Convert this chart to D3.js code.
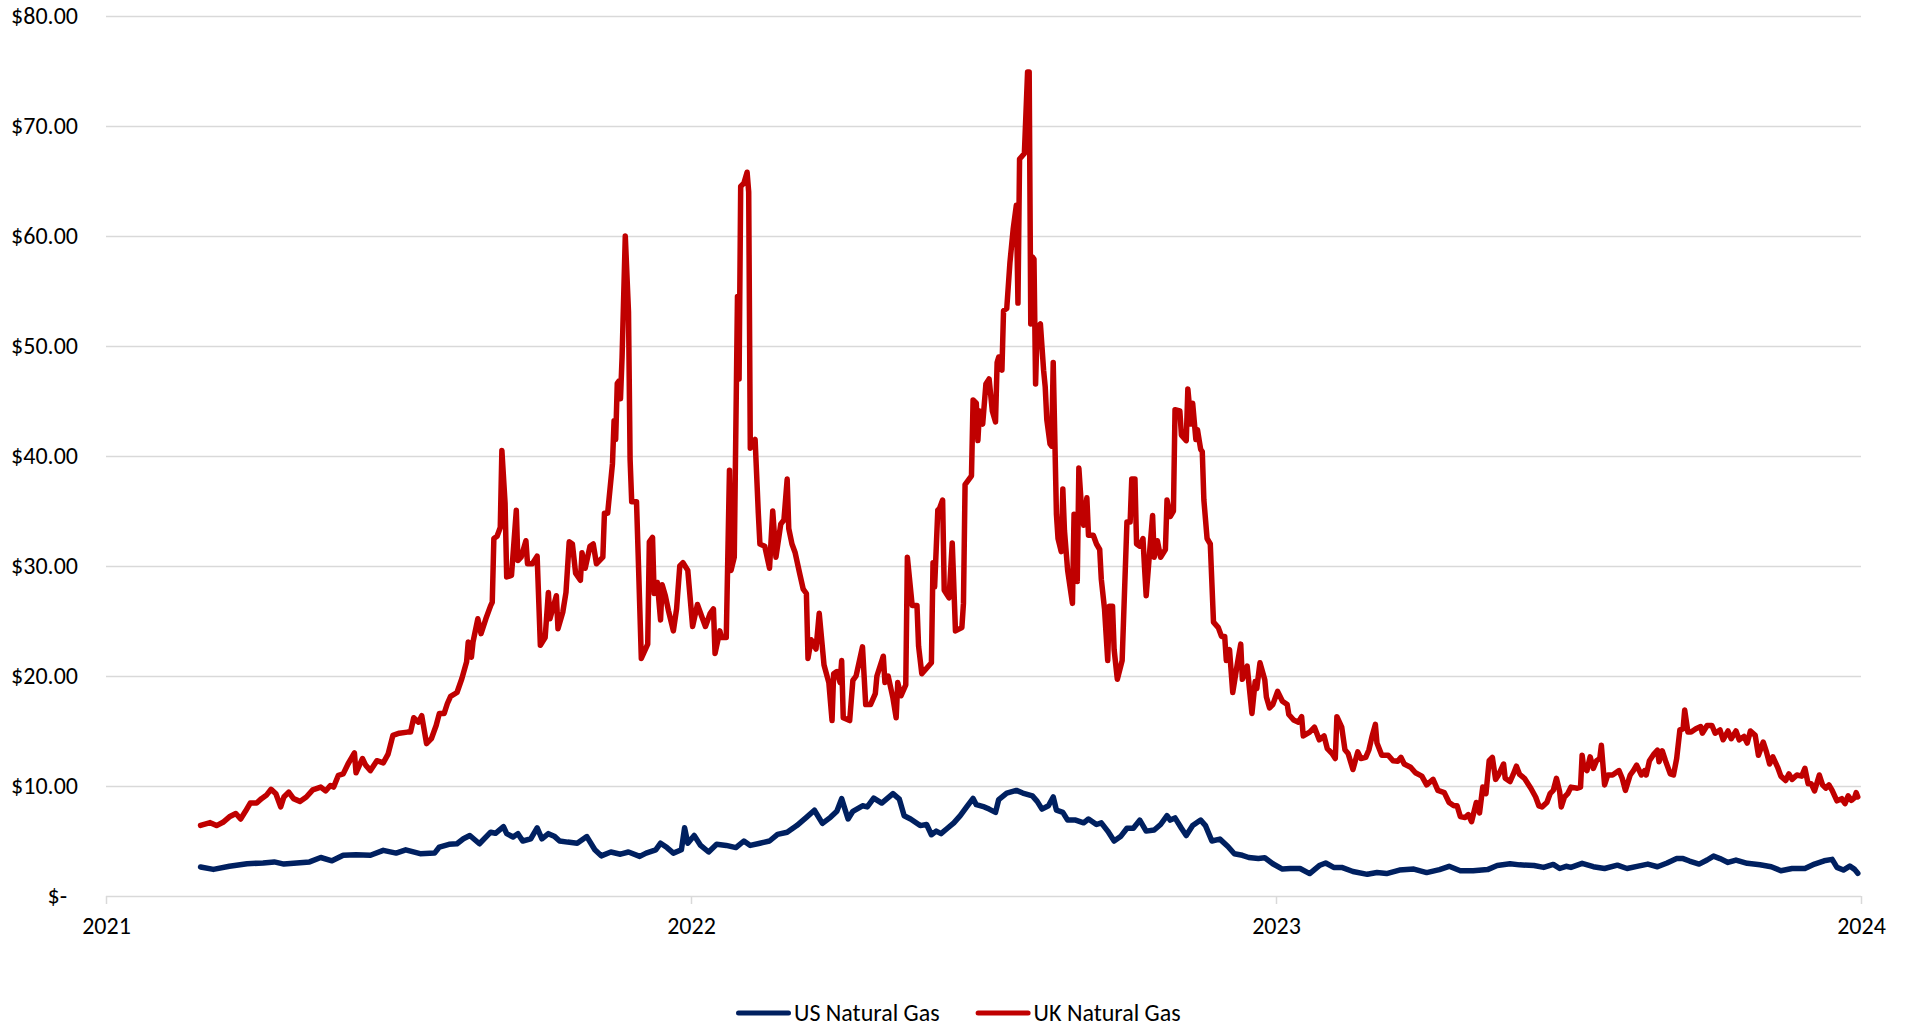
<!DOCTYPE html>
<html>
<head>
<meta charset="utf-8">
<script src="https://cdn.jsdelivr.net/npm/d3@7"></script>
<style>
  body { margin: 0; background: #ffffff; }
  svg text { font-family: Carlito, Calibri, "Liberation Sans", Arial, sans-serif; fill: #000000; }
</style>
</head>
<body>
<svg id="chart" width="1907" height="1027"></svg>
<script>
// Axis ticks
const yearTicks = ["2021", "2022", "2023", "2024"];
const priceTicks = [0, 10, 20, 30, 40, 50, 60, 70, 80];

// Series names and colours (legend order)
const seriesNames = ["US Natural Gas", "UK Natural Gas"];
const seriesColors = ["#002060", "#C00000"];

// US natural gas price, $ per MMBtu
const usPrices = [
  ["2021-03-01",2.64],["2021-03-09",2.42],["2021-03-19",2.70],["2021-03-30",2.94],["2021-04-09",3.00],
  ["2021-04-16",3.10],["2021-04-22",2.90],["2021-05-02",3.03],["2021-05-08",3.10],["2021-05-15",3.50],
  ["2021-05-22",3.20],["2021-05-29",3.70],["2021-06-06",3.75],["2021-06-15",3.70],["2021-06-23",4.15],
  ["2021-07-01",3.90],["2021-07-07",4.20],["2021-07-16",3.85],["2021-07-25",3.90],["2021-07-28",4.45],
  ["2021-08-03",4.70],["2021-08-08",4.75],["2021-08-12",5.20],["2021-08-16",5.50],["2021-08-22",4.75],
  ["2021-08-29",5.80],["2021-09-01",5.70],["2021-09-06",6.30],["2021-09-08",5.67],["2021-09-12",5.36],
  ["2021-09-15",5.67],["2021-09-18",5.00],["2021-09-23",5.20],["2021-09-27",6.20],["2021-09-30",5.20],
  ["2021-10-04",5.67],["2021-10-08",5.40],["2021-10-11",5.00],["2021-10-16",4.90],["2021-10-22",4.80],
  ["2021-10-28",5.40],["2021-11-02",4.20],["2021-11-06",3.65],["2021-11-12",4.00],["2021-11-18",3.80],
  ["2021-11-23",4.00],["2021-11-30",3.60],["2021-12-04",3.90],["2021-12-10",4.20],["2021-12-13",4.80],
  ["2021-12-17",4.40],["2021-12-21",3.90],["2021-12-26",4.20],["2021-12-28",6.20],["2021-12-30",4.80],
  ["2022-01-03",5.50],["2022-01-07",4.60],["2022-01-12",4.00],["2022-01-17",4.70],["2022-01-23",4.60],
  ["2022-01-29",4.40],["2022-02-03",5.00],["2022-02-07",4.60],["2022-02-13",4.80],["2022-02-19",5.00],
  ["2022-02-24",5.60],["2022-03-02",5.80],["2022-03-08",6.40],["2022-03-14",7.15],["2022-03-19",7.80],
  ["2022-03-24",6.60],["2022-03-29",7.15],["2022-04-02",7.70],["2022-04-05",8.85],["2022-04-09",7.00],
  ["2022-04-12",7.70],["2022-04-18",8.20],["2022-04-21",8.10],["2022-04-25",8.90],["2022-04-30",8.45],
  ["2022-05-07",9.30],["2022-05-11",8.80],["2022-05-14",7.30],["2022-05-18",7.00],["2022-05-24",6.40],
  ["2022-05-28",6.50],["2022-05-31",5.57],["2022-06-03",5.90],["2022-06-06",5.67],["2022-06-10",6.16],
  ["2022-06-14",6.65],["2022-06-18",7.30],["2022-06-22",8.10],["2022-06-26",8.87],["2022-06-28",8.30],
  ["2022-07-03",8.10],["2022-07-06",7.90],["2022-07-10",7.60],["2022-07-12",8.77],["2022-07-17",9.36],
  ["2022-07-23",9.60],["2022-07-27",9.36],["2022-08-02",9.10],["2022-08-05",8.60],["2022-08-08",7.90],
  ["2022-08-12",8.20],["2022-08-15",9.00],["2022-08-17",7.80],["2022-08-21",7.60],["2022-08-24",6.90],
  ["2022-08-29",6.90],["2022-09-03",6.65],["2022-09-06",7.00],["2022-09-11",6.50],["2022-09-14",6.65],
  ["2022-09-18",5.90],["2022-09-22",5.00],["2022-09-26",5.40],["2022-09-30",6.16],["2022-10-04",6.16],
  ["2022-10-08",6.90],["2022-10-12",5.90],["2022-10-17",6.00],["2022-10-21",6.50],["2022-10-25",7.30],
  ["2022-10-27",6.90],["2022-10-30",7.10],["2022-11-03",6.16],["2022-11-06",5.50],["2022-11-10",6.40],
  ["2022-11-15",6.90],["2022-11-18",6.40],["2022-11-22",5.00],["2022-11-27",5.17],["2022-12-02",4.50],
  ["2022-12-06",3.84],["2022-12-11",3.70],["2022-12-15",3.50],["2022-12-21",3.40],["2022-12-25",3.47],
  ["2022-12-30",2.93],["2023-01-05",2.45],["2023-01-10",2.50],["2023-01-16",2.50],["2023-01-22",2.04],
  ["2023-01-28",2.77],["2023-02-01",3.00],["2023-02-06",2.60],["2023-02-11",2.60],["2023-02-18",2.23],
  ["2023-02-27",1.97],["2023-03-05",2.13],["2023-03-11",2.04],["2023-03-19",2.36],["2023-03-28",2.45],
  ["2023-04-05",2.13],["2023-04-13",2.40],["2023-04-19",2.70],["2023-04-26",2.30],["2023-05-04",2.30],
  ["2023-05-13",2.40],["2023-05-19",2.77],["2023-05-27",2.93],["2023-06-02",2.83],["2023-06-11",2.77],
  ["2023-06-17",2.60],["2023-06-23",2.87],["2023-06-27",2.50],["2023-07-01",2.70],["2023-07-04",2.60],
  ["2023-07-11",2.97],["2023-07-18",2.66],["2023-07-25",2.50],["2023-08-02",2.80],["2023-08-08",2.50],
  ["2023-08-15",2.72],["2023-08-21",2.90],["2023-08-27",2.66],["2023-09-02",3.00],["2023-09-08",3.40],
  ["2023-09-12",3.40],["2023-09-16",3.18],["2023-09-22",2.90],["2023-09-27",3.27],["2023-10-01",3.63],
  ["2023-10-05",3.40],["2023-10-10",3.05],["2023-10-15",3.27],["2023-10-22",2.97],["2023-10-30",2.84],
  ["2023-11-06",2.66],["2023-11-12",2.30],["2023-11-19",2.50],["2023-11-27",2.50],["2023-12-03",2.90],
  ["2023-12-09",3.20],["2023-12-14",3.33],["2023-12-17",2.60],["2023-12-21",2.36],["2023-12-25",2.72],
  ["2023-12-28",2.42],["2023-12-30",2.06]
];

// UK natural gas price, $ per MMBtu
const ukPrices = [
  ["2021-03-01",6.42],["2021-03-07",6.67],["2021-03-11",6.40],["2021-03-15",6.70],["2021-03-19",7.20],
  ["2021-03-23",7.50],["2021-03-26",7.00],["2021-03-29",7.70],["2021-04-01",8.45],["2021-04-05",8.45],
  ["2021-04-08",8.85],["2021-04-11",9.15],["2021-04-14",9.70],["2021-04-17",9.30],["2021-04-20",8.10],
  ["2021-04-22",9.00],["2021-04-25",9.45],["2021-04-28",8.85],["2021-05-02",8.60],["2021-05-06",9.00],
  ["2021-05-10",9.65],["2021-05-15",9.90],["2021-05-18",9.55],["2021-05-21",10.05],["2021-05-23",9.90],
  ["2021-05-26",10.97],["2021-05-29",11.10],["2021-06-01",12.00],["2021-06-05",13.00],["2021-06-06",11.20],
  ["2021-06-10",12.50],["2021-06-12",11.90],["2021-06-15",11.40],["2021-06-19",12.30],["2021-06-23",12.10],
  ["2021-06-26",12.90],["2021-06-29",14.60],["2021-07-03",14.80],["2021-07-08",14.90],["2021-07-10",14.90],
  ["2021-07-12",16.20],["2021-07-15",15.80],["2021-07-17",16.40],["2021-07-20",13.85],["2021-07-23",14.30],
  ["2021-07-26",15.50],["2021-07-28",16.60],["2021-07-31",16.60],["2021-08-02",17.50],["2021-08-04",18.15],
  ["2021-08-08",18.50],["2021-08-11",19.75],["2021-08-14",21.30],["2021-08-15",23.10],["2021-08-17",21.70],
  ["2021-08-18",23.10],["2021-08-21",25.20],["2021-08-23",23.85],["2021-08-26",25.20],["2021-08-29",26.40],
  ["2021-08-30",26.70],["2021-08-31",32.50],["2021-09-02",32.70],["2021-09-04",33.50],["2021-09-05",40.50],
  ["2021-09-07",35.70],["2021-09-08",29.00],["2021-09-11",29.15],["2021-09-14",35.06],["2021-09-15",30.50],
  ["2021-09-17",30.80],["2021-09-20",32.30],["2021-09-21",30.20],["2021-09-24",30.20],["2021-09-27",30.90],
  ["2021-09-29",22.80],["2021-10-02",23.50],["2021-10-04",27.60],["2021-10-05",25.20],["2021-10-09",27.30],
  ["2021-10-10",24.30],["2021-10-13",25.80],["2021-10-15",27.60],["2021-10-17",32.20],["2021-10-19",32.00],
  ["2021-10-21",29.35],["2021-10-24",28.70],["2021-10-25",31.20],["2021-10-27",29.80],["2021-10-30",31.80],
  ["2021-11-01",32.00],["2021-11-03",30.20],["2021-11-07",30.80],["2021-11-08",34.80],["2021-11-10",34.80],
  ["2021-11-13",39.30],["2021-11-14",43.20],["2021-11-15",41.50],["2021-11-16",46.60],["2021-11-17",46.80],
  ["2021-11-18",45.20],["2021-11-19",49.00],["2021-11-21",60.00],["2021-11-23",53.10],["2021-11-24",39.70],
  ["2021-11-25",35.85],["2021-11-28",35.85],["2021-11-29",31.20],["2021-12-01",21.60],["2021-12-05",22.90],
  ["2021-12-06",32.20],["2021-12-08",32.60],["2021-12-09",27.50],["2021-12-11",28.50],["2021-12-13",25.10],
  ["2021-12-14",28.30],["2021-12-16",27.30],["2021-12-18",25.90],["2021-12-21",24.10],["2021-12-23",26.10],
  ["2021-12-25",30.00],["2021-12-27",30.30],["2021-12-30",29.60],["2022-01-02",24.50],["2022-01-05",26.50],
  ["2022-01-08",25.30],["2022-01-10",24.50],["2022-01-13",25.70],["2022-01-15",26.10],["2022-01-16",22.05],
  ["2022-01-19",24.10],["2022-01-20",23.50],["2022-01-23",23.50],["2022-01-25",38.70],["2022-01-26",29.60],
  ["2022-01-28",30.80],["2022-01-30",54.50],["2022-01-31",47.00],["2022-02-01",64.50],["2022-02-03",64.80],
  ["2022-02-05",65.80],["2022-02-06",64.00],["2022-02-07",40.70],["2022-02-10",41.50],["2022-02-12",34.80],
  ["2022-02-13",32.00],["2022-02-16",31.80],["2022-02-19",29.80],["2022-02-21",35.00],["2022-02-23",30.80],
  ["2022-02-26",33.80],["2022-02-28",34.20],["2022-03-02",37.90],["2022-03-03",33.40],["2022-03-05",32.00],
  ["2022-03-07",31.20],["2022-03-10",29.20],["2022-03-12",27.90],["2022-03-14",27.50],["2022-03-15",21.60],
  ["2022-03-17",23.30],["2022-03-20",22.45],["2022-03-22",25.70],["2022-03-25",21.00],["2022-03-28",19.40],
  ["2022-03-30",15.95],["2022-03-31",20.20],["2022-04-02",20.40],["2022-04-04",19.40],["2022-04-05",21.40],
  ["2022-04-06",16.20],["2022-04-10",15.95],["2022-04-12",19.60],["2022-04-14",20.00],["2022-04-18",22.65],
  ["2022-04-20",17.40],["2022-04-23",17.40],["2022-04-26",18.40],["2022-04-27",20.00],["2022-05-01",21.80],
  ["2022-05-02",19.40],["2022-05-04",20.00],["2022-05-07",18.00],["2022-05-09",16.20],["2022-05-10",19.40],
  ["2022-05-12",18.20],["2022-05-15",19.20],["2022-05-16",30.80],["2022-05-19",26.40],["2022-05-22",26.40],
  ["2022-05-23",22.70],["2022-05-25",20.20],["2022-05-28",20.70],["2022-05-31",21.20],["2022-06-01",30.30],
  ["2022-06-02",28.10],["2022-06-04",35.10],["2022-06-05",35.20],["2022-06-07",36.00],["2022-06-08",27.80],
  ["2022-06-11",27.10],["2022-06-13",32.10],["2022-06-15",24.10],["2022-06-19",24.40],["2022-06-20",26.60],
  ["2022-06-21",37.40],["2022-06-25",38.20],["2022-06-26",45.10],["2022-06-28",44.80],["2022-06-29",41.40],
  ["2022-06-30",44.10],["2022-07-02",42.90],["2022-07-04",46.55],["2022-07-06",47.00],["2022-07-08",44.10],
  ["2022-07-10",43.10],["2022-07-11",48.50],["2022-07-12",49.00],["2022-07-14",47.80],["2022-07-15",53.20],
  ["2022-07-17",53.40],["2022-07-19",57.60],["2022-07-21",60.60],["2022-07-23",62.80],["2022-07-24",53.90],
  ["2022-07-25",67.00],["2022-07-28",67.50],["2022-07-30",74.90],["2022-07-31",74.90],["2022-08-01",52.00],
  ["2022-08-02",58.10],["2022-08-03",57.90],["2022-08-04",46.55],["2022-08-05",51.70],["2022-08-07",52.00],
  ["2022-08-09",47.80],["2022-08-10",46.30],["2022-08-11",43.30],["2022-08-13",41.10],["2022-08-14",40.90],
  ["2022-08-15",48.50],["2022-08-17",34.70],["2022-08-18",32.50],["2022-08-20",31.30],["2022-08-21",37.00],
  ["2022-08-22",33.25],["2022-08-24",29.60],["2022-08-27",26.60],["2022-08-28",34.70],["2022-08-30",28.60],
  ["2022-08-31",38.90],["2022-09-02",34.50],["2022-09-03",33.70],["2022-09-05",36.20],["2022-09-06",32.80],
  ["2022-09-09",32.80],["2022-09-11",32.00],["2022-09-13",31.50],["2022-09-14",28.80],["2022-09-16",26.10],
  ["2022-09-18",21.40],["2022-09-19",26.35],["2022-09-21",26.35],["2022-09-22",22.40],["2022-09-24",19.70],
  ["2022-09-27",21.40],["2022-09-30",34.00],["2022-10-02",34.00],["2022-10-03",37.90],["2022-10-05",37.90],
  ["2022-10-06",32.00],["2022-10-08",31.80],["2022-10-10",32.50],["2022-10-11",29.80],["2022-10-12",27.30],
  ["2022-10-14",31.00],["2022-10-16",34.60],["2022-10-17",30.80],["2022-10-19",32.30],["2022-10-21",30.80],
  ["2022-10-24",31.50],["2022-10-25",36.00],["2022-10-27",34.50],["2022-10-29",35.00],["2022-10-30",44.20],
  ["2022-11-02",44.10],["2022-11-03",41.90],["2022-11-06",41.40],["2022-11-07",46.10],["2022-11-09",42.90],
  ["2022-11-10",44.80],["2022-11-12",41.50],["2022-11-13",42.40],["2022-11-15",40.60],["2022-11-16",40.40],
  ["2022-11-17",36.00],["2022-11-19",32.50],["2022-11-21",32.00],["2022-11-23",24.90],["2022-11-26",24.40],
  ["2022-11-28",23.60],["2022-11-30",23.60],["2022-12-01",21.40],["2022-12-03",22.40],["2022-12-05",18.50],
  ["2022-12-08",21.20],["2022-12-10",22.90],["2022-12-11",19.70],["2022-12-14",20.90],["2022-12-17",16.60],
  ["2022-12-19",19.50],["2022-12-20",18.85],["2022-12-22",21.20],["2022-12-25",19.65],["2022-12-26",18.10],
  ["2022-12-28",17.10],["2022-12-30",17.40],["2023-01-02",18.60],["2023-01-05",17.70],["2023-01-08",17.40],
  ["2023-01-09",16.50],["2023-01-12",16.00],["2023-01-15",15.80],["2023-01-17",16.30],["2023-01-18",14.55],
  ["2023-01-22",14.90],["2023-01-25",15.35],["2023-01-28",14.20],["2023-01-31",14.55],["2023-02-02",13.40],
  ["2023-02-05",12.96],["2023-02-07",12.50],["2023-02-08",16.30],["2023-02-11",15.35],["2023-02-13",13.30],
  ["2023-02-15",12.96],["2023-02-18",11.50],["2023-02-21",13.10],["2023-02-23",12.50],["2023-02-26",12.60],
  ["2023-02-28",13.30],["2023-03-02",14.55],["2023-03-04",15.60],["2023-03-05",13.90],["2023-03-08",12.80],
  ["2023-03-12",12.80],["2023-03-15",12.30],["2023-03-18",12.26],["2023-03-20",12.60],["2023-03-22",12.00],
  ["2023-03-26",11.70],["2023-03-29",11.20],["2023-04-02",10.90],["2023-04-05",10.10],["2023-04-09",10.60],
  ["2023-04-12",9.60],["2023-04-16",9.40],["2023-04-19",8.50],["2023-04-22",8.20],["2023-04-24",8.20],
  ["2023-04-26",7.23],["2023-04-29",7.13],["2023-05-01",7.40],["2023-05-03",6.75],["2023-05-06",8.50],
  ["2023-05-08",7.55],["2023-05-10",9.90],["2023-05-12",9.30],["2023-05-14",12.30],["2023-05-16",12.60],
  ["2023-05-18",10.60],["2023-05-20",11.05],["2023-05-23",12.00],["2023-05-24",10.70],["2023-05-27",10.40],
  ["2023-05-29",11.05],["2023-05-31",11.80],["2023-06-02",11.05],["2023-06-05",10.70],["2023-06-09",9.80],
  ["2023-06-12",9.00],["2023-06-14",8.20],["2023-06-16",8.10],["2023-06-19",8.50],["2023-06-21",9.30],
  ["2023-06-23",9.60],["2023-06-25",10.70],["2023-06-27",9.46],["2023-06-28",8.10],["2023-06-30",9.00],
  ["2023-07-02",9.30],["2023-07-04",9.90],["2023-07-08",9.80],["2023-07-10",9.90],["2023-07-11",12.80],
  ["2023-07-12",11.70],["2023-07-14",11.40],["2023-07-16",12.65],["2023-07-18",11.60],["2023-07-20",12.30],
  ["2023-07-22",12.50],["2023-07-23",13.70],["2023-07-25",10.10],["2023-07-27",11.00],["2023-07-30",11.00],
  ["2023-08-03",11.40],["2023-08-05",10.70],["2023-08-07",9.60],["2023-08-10",11.00],["2023-08-12",11.40],
  ["2023-08-14",11.90],["2023-08-17",11.00],["2023-08-19",11.40],["2023-08-20",11.00],["2023-08-22",12.30],
  ["2023-08-25",12.95],["2023-08-27",13.25],["2023-08-28",12.20],["2023-08-30",13.20],["2023-09-01",12.30],
  ["2023-09-04",11.10],["2023-09-06",11.00],["2023-09-08",12.50],["2023-09-10",15.10],["2023-09-12",15.20],
  ["2023-09-13",16.90],["2023-09-15",14.90],["2023-09-17",14.90],["2023-09-20",15.20],["2023-09-23",15.40],
  ["2023-09-24",14.80],["2023-09-27",15.50],["2023-09-30",15.50],["2023-10-02",14.80],["2023-10-05",15.10],
  ["2023-10-07",14.20],["2023-10-10",15.00],["2023-10-12",14.30],["2023-10-15",15.00],["2023-10-17",14.20],
  ["2023-10-20",14.50],["2023-10-22",13.90],["2023-10-24",15.00],["2023-10-27",14.60],["2023-10-29",12.80],
  ["2023-11-01",14.00],["2023-11-03",13.10],["2023-11-05",12.00],["2023-11-07",12.65],["2023-11-10",11.70],
  ["2023-11-12",10.90],["2023-11-15",10.50],["2023-11-17",11.10],["2023-11-19",10.60],["2023-11-22",11.00],
  ["2023-11-25",10.90],["2023-11-27",11.60],["2023-11-29",10.20],["2023-12-01",10.20],["2023-12-03",9.55],
  ["2023-12-06",11.00],["2023-12-08",10.10],["2023-12-10",9.80],["2023-12-12",10.10],["2023-12-14",9.60],
  ["2023-12-17",8.65],["2023-12-20",8.85],["2023-12-22",8.40],["2023-12-24",9.10],["2023-12-26",8.70],
  ["2023-12-28",8.95],["2023-12-29",9.40],["2023-12-30",9.00]
];

const parseDate = d3.timeParse("%Y-%m-%d");
const parseYear = d3.timeParse("%Y");
const series = [usPrices, ukPrices].map((rows, i) => ({
  name: seriesNames[i],
  color: seriesColors[i],
  values: rows.map(([d, v]) => ({ date: parseDate(d), value: v }))
}));

const svg = d3.select("#chart");
const plot = { left: 106, right: 1861, top: 16, bottom: 896 };
const gridColor = "#d9d9d9";
const fontSize = 24;

const years = yearTicks.map(parseYear);
const x = d3.scaleTime()
  .domain(d3.extent(years))
  .range([plot.left, plot.right]);
const y = d3.scaleLinear()
  .domain([priceTicks[0], priceTicks[priceTicks.length - 1]])
  .range([plot.bottom, plot.top]);

// Horizontal gridlines with the price labels
const yAxis = svg.append("g")
  .attr("transform", `translate(${plot.left},0)`)
  .call(d3.axisLeft(y)
    .tickValues(priceTicks)
    .tickSize(-(plot.right - plot.left))
    .tickPadding(28)
    .tickFormat(d => d === 0 ? "$-" : "$" + d3.format(".2f")(d)));
yAxis.select(".domain").remove();
yAxis.selectAll(".tick line").attr("stroke", gridColor).attr("stroke-width", 1.5);
yAxis.selectAll(".tick text")
  .attr("font-size", fontSize)
  .attr("dy", "0.33em")
  .attr("dx", d => d === 0 ? -11 : 0);

// Year ticks along the bottom
const xAxis = svg.append("g")
  .attr("transform", `translate(0,${plot.bottom})`)
  .call(d3.axisBottom(x)
    .tickValues(years)
    .tickSize(8)
    .tickSizeOuter(0)
    .tickPadding(13)
    .tickFormat(d3.timeFormat("%Y")));
xAxis.select(".domain").remove();
xAxis.selectAll(".tick line").attr("stroke", gridColor).attr("stroke-width", 1.5);
xAxis.selectAll(".tick text").attr("font-size", fontSize);

// Price lines
const line = d3.line()
  .x(d => x(d.date))
  .y(d => y(d.value));

svg.append("g")
  .selectAll("path")
  .data(series.slice().reverse())
  .join("path")
  .attr("d", d => line(d.values))
  .attr("fill", "none")
  .attr("stroke", d => d.color)
  .attr("stroke-width", 5.5)
  .attr("stroke-linejoin", "round")
  .attr("stroke-linecap", "round");

// Legend below the plot
const legendY = 1013;
const legendStart = 736;
const swatchLen = 55, textOffset = 58, itemGap = 36;
const legend = svg.append("g").attr("transform", `translate(${legendStart},${legendY})`);
let cursor = 0;
series.forEach(s => {
  const g = legend.append("g").attr("transform", `translate(${cursor},0)`);
  g.append("line")
    .attr("x1", 2.5).attr("x2", swatchLen - 2.5)
    .attr("y1", 0).attr("y2", 0)
    .attr("stroke", s.color)
    .attr("stroke-width", 5)
    .attr("stroke-linecap", "round");
  const t = g.append("text")
    .attr("x", textOffset)
    .attr("dy", "0.33em")
    .attr("font-size", fontSize)
    .text(s.name);
  cursor += textOffset + t.node().getComputedTextLength() + itemGap;
});
</script>
</body>
</html>
